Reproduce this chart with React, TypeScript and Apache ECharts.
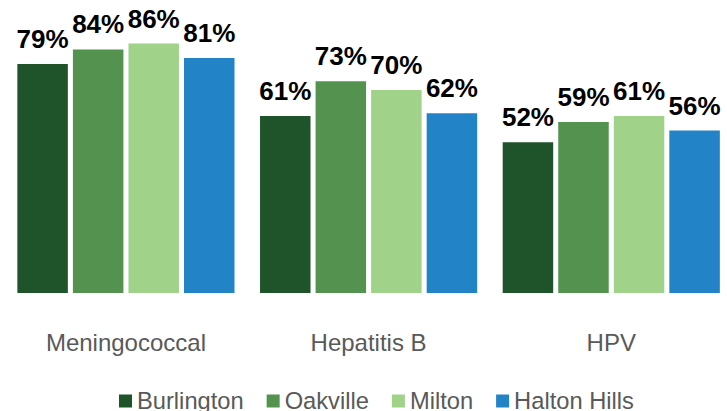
import React, { useEffect, useRef } from "react";
import * as echarts from "echarts";

const categories = ["Meningococcal", "Hepatitis B", "HPV"];
const seriesNames = ["Burlington", "Oakville", "Milton", "Halton Hills"];
const burlington = [79, 61, 52];
const oakville = [84, 73, 59];
const milton = [86, 70, 61];
const haltonHills = [81, 62, 56];
const colors = ["#1F542B", "#54924F", "#A0D28A", "#2383C7"];

export default function App() {
  const ref = useRef<HTMLDivElement>(null);
  useEffect(() => {
    if (!ref.current) return;
    const chart = echarts.init(ref.current, undefined, { renderer: "svg" });
    const data = [burlington, oakville, milton, haltonHills];
    chart.setOption({
      animation: false,
      grid: { left: 4.6, width: 728, top: 3, bottom: 118, containLabel: false },
      xAxis: {
        type: "category",
        data: categories,
        axisLine: { show: false },
        axisTick: { show: false },
        axisLabel: {
          color: "#595959",
          fontSize: 24,
          fontFamily: "Liberation Sans, Arial, sans-serif",
          margin: 37,
        },
      },
      yAxis: {
        type: "value",
        min: 0,
        max: 100,
        show: false,
        splitLine: { show: false },
      },
      legend: {
        left: 114,
        top: 384,
        itemWidth: 13,
        itemHeight: 13,
        itemGap: 23,
        icon: "rect",
        textStyle: {
          color: "#595959",
          fontSize: 23.7,
          fontFamily: "Liberation Sans, Arial, sans-serif",
        },
        data: seriesNames,
      },
      series: seriesNames.map((name, i) => ({
        name,
        type: "bar",
        data: data[i],
        barWidth: 50.5,
        barGap: "10%",
        itemStyle: { color: colors[i] },
        label: {
          show: true,
          position: "top",
          distance: 12,
          formatter: "{c}%",
          color: "#000",
          fontSize: 26,
          fontWeight: "bold",
          fontFamily: "Liberation Sans, Arial, sans-serif",
        },
      })),
    });
    return () => chart.dispose();
  }, []);
  return (
    <div
      style={{ position: "fixed", left: 0, top: 0, width: 727, height: 411, overflow: "hidden", background: "#fff" }}
    >
      <div ref={ref} style={{ width: 740, height: 411 }} />
    </div>
  );
}
